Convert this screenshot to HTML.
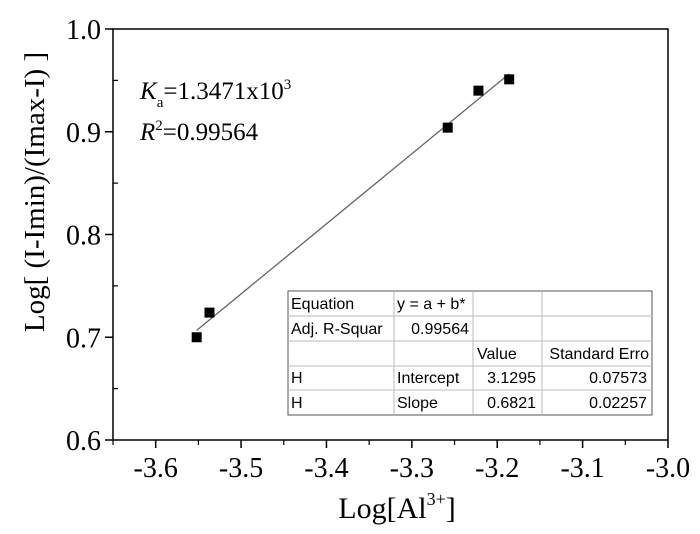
<!DOCTYPE html>
<html><head><meta charset="utf-8"><style>
html,body{margin:0;padding:0;background:#fff;}
svg{display:block;font-family:"Liberation Serif",serif;}
.tb{font-family:"Liberation Sans",sans-serif;font-size:16px;fill:#000;}
</style></head><body>
<svg id="chart" width="700" height="534" viewBox="0 0 700 534">
<rect x="0" y="0" width="700" height="534" fill="#fff"/>
<g id="axes"></g>
<g id="marks"></g>
<text x="140" y="99" font-size="25"><tspan font-style="italic">K</tspan><tspan font-size="15" dy="8">a</tspan><tspan dy="-8">=1.3471x10</tspan><tspan font-size="15" dy="-10">3</tspan></text>
<text x="140" y="140" font-size="25"><tspan font-style="italic">R</tspan><tspan font-size="15" dy="-10">2</tspan><tspan dy="10">=0.99564</tspan></text>
<g>
<rect x="288" y="291" width="364" height="124" fill="#fff" stroke="#555" stroke-width="1"/>
<g stroke="#bbb" stroke-width="1">
<line x1="288" y1="316" x2="652" y2="316"/><line x1="288" y1="341" x2="652" y2="341"/>
<line x1="288" y1="366" x2="652" y2="366"/><line x1="288" y1="390" x2="652" y2="390"/>
<line x1="394" y1="291" x2="394" y2="415"/><line x1="473" y1="291" x2="473" y2="415"/>
<line x1="542" y1="291" x2="542" y2="415"/>
</g>
<text class="tb" x="291" y="309">Equation</text><text class="tb" x="397" y="309">y = a + b*</text>
<text class="tb" x="291" y="334">Adj. R-Squar</text><text class="tb" x="469" y="334" text-anchor="end">0.99564</text>
<text class="tb" x="477" y="359">Value</text><text class="tb" x="649" y="359" text-anchor="end">Standard Erro</text>
<text class="tb" x="291" y="383">H</text><text class="tb" x="397" y="383">Intercept</text><text class="tb" x="536" y="383" text-anchor="end">3.1295</text><text class="tb" x="647" y="383" text-anchor="end">0.07573</text>
<text class="tb" x="291" y="408">H</text><text class="tb" x="397" y="408">Slope</text><text class="tb" x="536" y="408" text-anchor="end">0.6821</text><text class="tb" x="647" y="408" text-anchor="end">0.02257</text>
</g>
<text x="397" y="518" font-size="30" text-anchor="middle">Log[Al<tspan font-size="18" dy="-13">3+</tspan><tspan dy="13">]</tspan></text>
<text transform="translate(44,192) rotate(-90)" font-size="29" text-anchor="middle">Log[ (I-Imin)/(Imax-I) ]</text>
</svg>
<script>
const xVals=[-3.552,-3.537,-3.258,-3.222,-3.186];
const yVals=[0.700,0.724,0.904,0.940,0.951];
const fitIntercept=3.1295, fitSlope=0.6821;
const xTicks=["-3.6","-3.5","-3.4","-3.3","-3.2","-3.1","-3.0"];
const yTicks=["0.6","0.7","0.8","0.9","1.0"];
const L=113,R=668,T=29,B=440,xMin=-3.65,xMax=-3.0,yMin=0.6,yMax=1.0;
const sx=v=>L+(v-xMin)/(xMax-xMin)*(R-L);
const sy=v=>B-(v-yMin)/(yMax-yMin)*(B-T);
const NS="http://www.w3.org/2000/svg";
const axes=document.getElementById('axes'),marks=document.getElementById('marks');
function mk(tag,at,parent){const e=document.createElementNS(NS,tag);for(const k in at)e.setAttribute(k,at[k]);parent.appendChild(e);return e;}
const frame=mk('rect',{x:L,y:T,width:R-L,height:B-T,fill:'none',stroke:'#000','stroke-width':1.5},axes);


xTicks.forEach(t=>{const v=parseFloat(t),x=sx(v);
 const l=mk('line',{x1:x,y1:B,x2:x,y2:B+8,stroke:'#000','stroke-width':1.5},axes);
 
 
 const m=mk('line',{x1:sx(v+0.05),y1:B,x2:sx(v+0.05),y2:B+5,stroke:'#000','stroke-width':1.2},axes);
 
 
 const tx=mk('text',{x:x,y:477,'font-size':28,'text-anchor':'middle'},axes);tx.textContent=t;
 
 
});
const mm=mk('line',{x1:sx(-3.65),y1:B,x2:sx(-3.65),y2:B+5,stroke:'#000','stroke-width':1.2},axes);


yTicks.forEach(t=>{const v=parseFloat(t),y=sy(v);
 const l=mk('line',{x1:L-8,y1:y,x2:L,y2:y,stroke:'#000','stroke-width':1.5},axes);
 
 
 if(v<1){const m=mk('line',{x1:L,y1:sy(v+0.05),x2:L+5,y2:sy(v+0.05),stroke:'#000','stroke-width':1.2},axes);
 
 }
 const tx=mk('text',{x:101,y:y+10,'font-size':28,'text-anchor':'end'},axes);tx.textContent=t;
 
 
});
const x0=Math.min(...xVals),x1=Math.max(...xVals);
const fit=mk('line',{x1:sx(x0),y1:sy(fitIntercept+fitSlope*x0),x2:sx(x1),y2:sy(fitIntercept+fitSlope*x1),stroke:'#666','stroke-width':1.3},marks);


xVals.forEach((xv,i)=>{
 const r=mk('rect',{x:sx(xv)-5,y:sy(yVals[i])-5,width:10,height:10,fill:'#000'},marks);
 
 
});
</script>
</body></html>
